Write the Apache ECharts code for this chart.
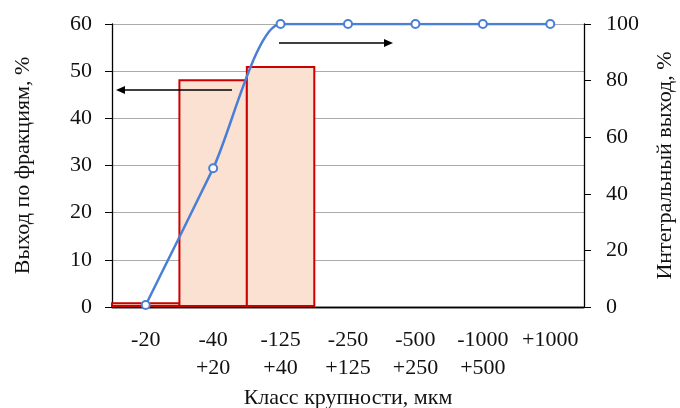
<!DOCTYPE html>
<html><head><meta charset="utf-8">
<script src="https://cdn.jsdelivr.net/npm/echarts@6/dist/echarts.min.js"></script>
<style>html,body{margin:0;padding:0;background:#fff}#c{width:680px;height:408px}</style>
</head><body><div id="c"></div>
<script>
const categories = ['-20\n', '-40\n+20', '-125\n+40', '-250\n+125', '-500\n+250', '-1000\n+500', '+1000\n'];
const fractionYield = [1, 48.3, 51.1, 0, 0, 0, 0];
const cumulativeYield = [0.7, 49, 100, 100, 100, 100, 100];
const leftTicks = {min: 0, max: 60, interval: 10};
const rightTicks = {min: 0, max: 100, interval: 20};

const FONT = 'Liberation Serif';
const FS = 22;
const chart = echarts.init(document.getElementById('c'));
const arrowStyle = {stroke: '#000', lineWidth: 1.3};
chart.setOption({
  animation: false,
  textStyle: {fontFamily: FONT},
  grid: {left: 112, right: 96, top: 24, bottom: 101, containLabel: false, outerBoundsMode: 'none'},
  xAxis: [{
    type: 'category', data: categories,
    axisLine: {lineStyle: {color: '#000', width: 1.3}},
    axisTick: {alignWithLabel: false, length: 7, lineStyle: {color: '#000'}},
    axisLabel: {color: '#111', fontSize: FS, fontFamily: FONT, margin: 19, lineHeight: 28, interval: 0},
    name: 'Класс крупности, мкм', nameLocation: 'middle', nameGap: 77,
    nameTextStyle: {color: '#111', fontSize: FS, fontFamily: FONT}
  }, {
    type: 'category', data: categories, position: 'top',
    axisLine: {lineStyle: {color: '#000', width: 1.3}},
    axisTick: {show: false}, axisLabel: {show: false}
  }],
  yAxis: [{
    type: 'value', min: leftTicks.min, max: leftTicks.max, interval: leftTicks.interval,
    axisLine: {show: true, lineStyle: {color: '#000', width: 1.3}},
    axisTick: {show: true, length: 7, lineStyle: {color: '#000'}},
    splitLine: {lineStyle: {color: '#ABABAB', width: 1}},
    axisLabel: {color: '#111', fontSize: FS, fontFamily: FONT, margin: 20},
    name: 'Выход по фракциям, %', nameLocation: 'middle', nameGap: 78,
    nameTextStyle: {color: '#111', fontSize: FS, fontFamily: FONT}
  }, {
    type: 'value', min: rightTicks.min, max: rightTicks.max, interval: rightTicks.interval,
    position: 'right',
    axisLine: {show: true, lineStyle: {color: '#000', width: 1.3}},
    axisTick: {show: true, length: 7, lineStyle: {color: '#000'}},
    splitLine: {show: false},
    axisLabel: {color: '#111', fontSize: FS, fontFamily: FONT, margin: 22},
    name: 'Интегральный выход, %', nameLocation: 'middle', nameGap: 70, nameRotate: 90,
    nameTextStyle: {color: '#111', fontSize: FS, fontFamily: FONT}
  }],
  series: [{
    type: 'bar', data: fractionYield.map(v => v === 0 ? '-' : v), yAxisIndex: 0,
    barWidth: '103%', barGap: '0%',
    itemStyle: {color: '#FAE1D2', borderColor: '#CC0000', borderWidth: 2}
  }, {
    type: 'line', data: cumulativeYield, yAxisIndex: 1, smooth: 0.25,
    symbol: 'circle', symbolSize: 8,
    lineStyle: {color: '#4A7FD6', width: 2.5},
    itemStyle: {color: '#fff', borderColor: '#4A7FD6', borderWidth: 2}
  }],
  graphic: [
    {type: 'line', shape: {x1: 232, y1: 90, x2: 122, y2: 90}, style: arrowStyle, z: 100},
    {type: 'polygon', shape: {points: [[116, 90], [125, 86], [125, 94]]}, style: {fill: '#000'}, z: 100},
    {type: 'line', shape: {x1: 279, y1: 43, x2: 386, y2: 43}, style: arrowStyle, z: 100},
    {type: 'polygon', shape: {points: [[393, 43], [384, 39], [384, 47]]}, style: {fill: '#000'}, z: 100}
  ]
});
</script></body></html>
